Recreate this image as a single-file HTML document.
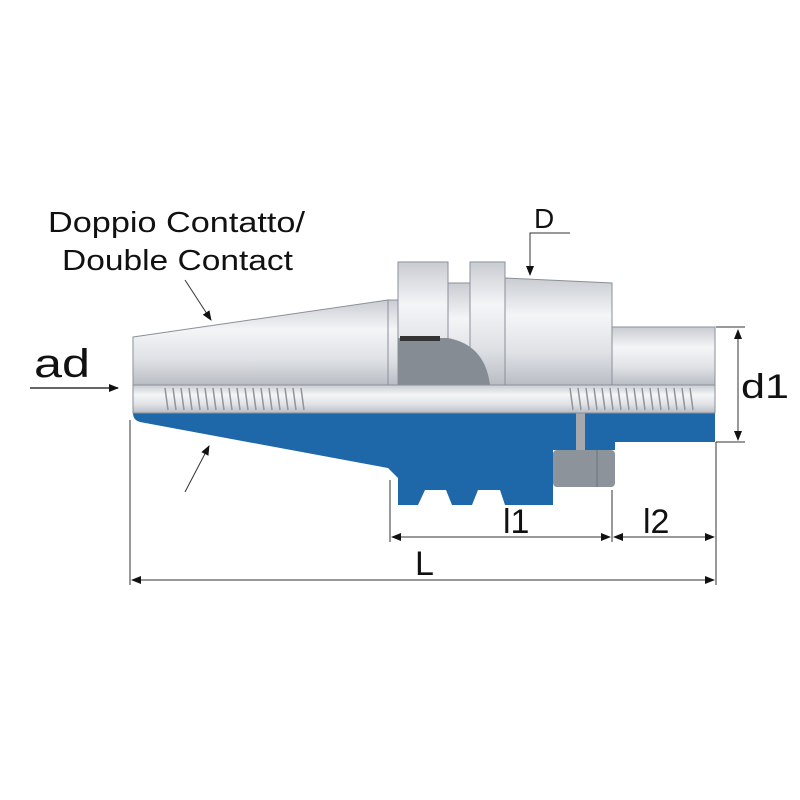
<!DOCTYPE html>
<html><head><meta charset="utf-8"><style>
html,body{margin:0;padding:0;background:#fff;width:800px;height:800px;overflow:hidden}
text{font-family:"Liberation Sans","DejaVu Sans",sans-serif;fill:#111}
</style></head><body>
<svg width="800" height="800" viewBox="0 0 800 800" xmlns="http://www.w3.org/2000/svg">
<defs>
<linearGradient id="s" x1="0" y1="0" x2="0" y2="1">
<stop offset="0" stop-color="#c9ccd2"/><stop offset="0.35" stop-color="#f4f5f7"/><stop offset="0.7" stop-color="#dfe1e5"/><stop offset="1" stop-color="#b9bdc4"/></linearGradient>
<marker id="a" markerWidth="10" markerHeight="8" refX="9" refY="4" orient="auto" markerUnits="userSpaceOnUse"><path d="M0,0 L10,4 L0,8z" fill="#111"/></marker>
<marker id="b" markerWidth="10" markerHeight="8" refX="1" refY="4" orient="auto" markerUnits="userSpaceOnUse"><path d="M10,0 L0,4 L10,8z" fill="#111"/></marker>
</defs>
<path d="M133,413 L715,413 L715,442 L615,442 L615,450 L553,450 L553,505 L505,505 L500,490 L478,490 L472,505 L452,505 L446,490 L425,490 L418,505 L398,505 L398,478 L388,468 L140,422 Q133,420 133,413 Z" fill="#1e67a8"/>
<rect x="553" y="450" width="62" height="37" rx="4" fill="#8d939a"/>
<line x1="597" y1="450" x2="597" y2="487" stroke="#6d737a"/>
<rect x="576" y="413" width="9" height="37" fill="#a5a9ae"/>
<path d="M133,337 L388,300 L388,385 L133,385 Z" fill="url(#s)" stroke="#8a9099"/>
<rect x="388" y="300" width="10" height="85" fill="url(#s)" stroke="#8a9099"/>
<rect x="398" y="262" width="50" height="123" fill="url(#s)" stroke="#8a9099"/>
<rect x="448" y="283" width="22" height="102" fill="url(#s)" stroke="#8a9099"/>
<rect x="470" y="262" width="35" height="123" fill="url(#s)" stroke="#8a9099"/>
<path d="M398,338 L448,338 Q485,345 490,385 L398,385 Z" fill="#858c94"/>
<rect x="400" y="336" width="40" height="5" fill="#333"/>
<path d="M505,278 L612,283 L612,385 L505,385 Z" fill="url(#s)" stroke="#8a9099"/>
<rect x="612" y="327" width="103" height="58" fill="url(#s)" stroke="#8a9099"/>
<rect x="133" y="385" width="582" height="28" fill="url(#s)" stroke="#8a9099"/>
<g stroke="#8f959c" stroke-width="1.5">
<path d="M165,388 l3,22 M173,388 l3,22 M181,388 l3,22 M189,388 l3,22 M197,388 l3,22 M205,388 l3,22 M213,388 l3,22 M221,388 l3,22 M229,388 l3,22 M237,388 l3,22 M245,388 l3,22 M253,388 l3,22 M261,388 l3,22 M269,388 l3,22 M277,388 l3,22 M285,388 l3,22 M293,388 l3,22 M301,388 l3,22"/>
<path d="M570,388 l3,22 M578,388 l3,22 M586,388 l3,22 M594,388 l3,22 M602,388 l3,22 M610,388 l3,22 M618,388 l3,22 M626,388 l3,22 M634,388 l3,22 M642,388 l3,22 M650,388 l3,22 M658,388 l3,22 M666,388 l3,22 M674,388 l3,22 M682,388 l3,22 M690,388 l3,22"/>
</g>
<g stroke="#333" stroke-width="1" fill="none">
<line x1="130" y1="420" x2="130" y2="585"/>
<line x1="390" y1="480" x2="390" y2="542"/>
<line x1="612" y1="490" x2="612" y2="542"/>
<line x1="716" y1="442" x2="716" y2="585"/>
<line x1="716" y1="327" x2="745" y2="327"/>
<line x1="716" y1="442" x2="745" y2="442"/>
<line x1="738" y1="330" x2="738" y2="440" marker-start="url(#b)" marker-end="url(#a)"/>
<line x1="392" y1="537" x2="610" y2="537" marker-start="url(#b)" marker-end="url(#a)"/>
<line x1="614" y1="537" x2="714" y2="537" marker-start="url(#b)" marker-end="url(#a)"/>
<line x1="132" y1="580" x2="714" y2="580" marker-start="url(#b)" marker-end="url(#a)"/>
<line x1="30" y1="388" x2="118" y2="388" marker-end="url(#a)" stroke-width="1.5"/>
<line x1="185" y1="280" x2="211" y2="320" marker-end="url(#a)"/>
<line x1="185" y1="492" x2="209" y2="446" marker-end="url(#a)"/>
<polyline points="570,233 530,233 530,275" marker-end="url(#a)"/>
</g>
<text x="48" y="232" font-size="29" textLength="257" lengthAdjust="spacingAndGlyphs">Doppio Contatto/</text>
<text x="62" y="270" font-size="29" textLength="231" lengthAdjust="spacingAndGlyphs">Double Contact</text>
<text x="534" y="228" font-size="28">D</text>
<text x="34" y="377" font-size="40" textLength="56" lengthAdjust="spacingAndGlyphs">ad</text>
<text x="741" y="398" font-size="34" textLength="48" lengthAdjust="spacingAndGlyphs">d1</text>
<text x="503" y="533" font-size="34">l1</text>
<text x="643" y="533" font-size="34">l2</text>
<text x="415" y="575" font-size="34">L</text>
</svg>
</body></html>
